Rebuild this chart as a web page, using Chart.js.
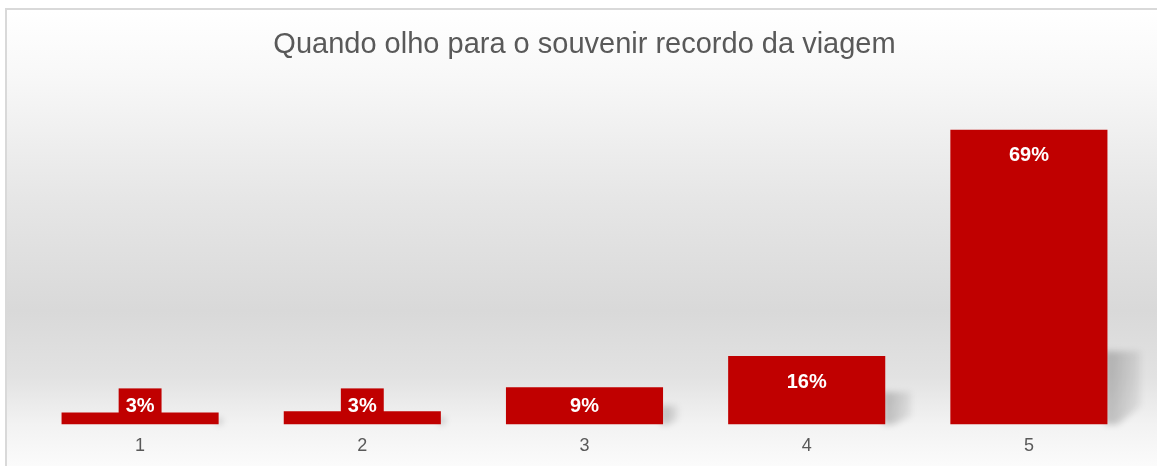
<!DOCTYPE html>
<html>
<head>
<meta charset="utf-8">
<script src="https://cdn.jsdelivr.net/npm/chart.js@4.4.1/dist/chart.umd.min.js"></script>
<style>
  html, body { margin: 0; padding: 0; background: #fff; overflow: hidden; }
  #frame {
    position: absolute; left: 5px; top: 8px;
    width: 1160px; height: 470px;
    border-top: 2px solid #d9d9d9; border-left: 2px solid #d9d9d9;
    background: linear-gradient(to bottom, #ffffff 0%, #f8f8f8 14%, #e6e6e6 40%, #d9d9d9 64%, #e2e2e2 78%, #f2f2f2 88%, #fbfbfb 97%, #ffffff 100%);
  }
  #wrap { position: absolute; left: 0; top: 0; width: 1150px; height: 458px; }
</style>
</head>
<body>
<div id="frame"><div id="wrap"><canvas id="chart"></canvas></div></div>
<script>
const titleText = 'Quando olho para o souvenir recordo da viagem';
const categories = ['1', '2', '3', '4', '5'];
const shares = [2.8, 3.1, 8.7, 16.0, 69.0];
const barColor = '#C00000';
const textGray = '#595959';

// soft shadow to the right of each bar
const barShadow = {
  id: 'barShadow',
  beforeDatasetsDraw(chart) {
    const ctx = chart.ctx;
    chart.getDatasetMeta(0).data.forEach((bar) => {
      const height = bar.base - bar.y;
      const h = Math.min(height * 0.5, 20 + height * 0.18);
      const w = Math.min(33, h * 0.8);
      const right = bar.x + bar.width / 2;
      const bottom = bar.base;
      ctx.save();
      ctx.filter = 'blur(3px)';
      const g = ctx.createLinearGradient(right, 0, right + w, 0);
      g.addColorStop(0, 'rgba(0,0,0,0.22)');
      g.addColorStop(1, 'rgba(0,0,0,0.06)');
      ctx.fillStyle = g;
      ctx.beginPath();
      ctx.moveTo(right - 2, bottom);
      ctx.lineTo(right - 2, bottom - h);
      ctx.lineTo(right + w, bottom - h);
      ctx.lineTo(right + w, bottom - h * 0.25);
      ctx.lineTo(right + w * 0.3, bottom);
      ctx.closePath();
      ctx.fill();
      ctx.restore();
    });
  },
};

// percentage labels inside the top of each bar
const barLabels = {
  id: 'barLabels',
  afterDatasetsDraw(chart) {
    const ctx = chart.ctx;
    ctx.save();
    ctx.font = 'bold 20px "Liberation Sans", Arial, sans-serif';
    ctx.textAlign = 'center';
    ctx.textBaseline = 'middle';
    chart.getDatasetMeta(0).data.forEach((bar, i) => {
      const text = Math.round(shares[i]) + '%';
      const cy = Math.min(bar.y + 25, bar.base - 19);
      if (cy - 12 < bar.y) {
        const tw = ctx.measureText(text).width;
        ctx.fillStyle = barColor;
        ctx.fillRect(bar.x - tw / 2 - 7, cy - 17, tw + 14, bar.y - (cy - 17) + 1);
      }
      ctx.fillStyle = '#ffffff';
      ctx.fillText(text, bar.x, cy + 1);
    });
    ctx.restore();
  },
};

new Chart(document.getElementById('chart'), {
  type: 'bar',
  data: {
    labels: categories,
    datasets: [{
      data: shares,
      backgroundColor: barColor,
      borderWidth: 0,
      barPercentage: 0.707,
      categoryPercentage: 1,
    }],
  },
  options: {
    responsive: true,
    maintainAspectRatio: false,
    animation: false,
    layout: { padding: { left: 22, right: 17, top: 0, bottom: 0 } },
    plugins: {
      legend: { display: false },
      tooltip: { enabled: false },
      title: {
        display: true,
        text: titleText,
        color: textGray,
        font: { family: '"Liberation Sans", Arial, sans-serif', size: 29, weight: 'normal' },
        padding: { top: 18, bottom: 20 },
      },
    },
    scales: {
      x: {
        grid: { display: false, drawTicks: false },
        border: { display: false },
        ticks: {
          color: textGray,
          padding: 11,
          font: { family: '"Liberation Sans", Arial, sans-serif', size: 18 },
        },
      },
      y: {
        display: false,
        min: 0,
        max: 80,
      },
    },
  },
  plugins: [barShadow, barLabels],
});
</script>
</body>
</html>
